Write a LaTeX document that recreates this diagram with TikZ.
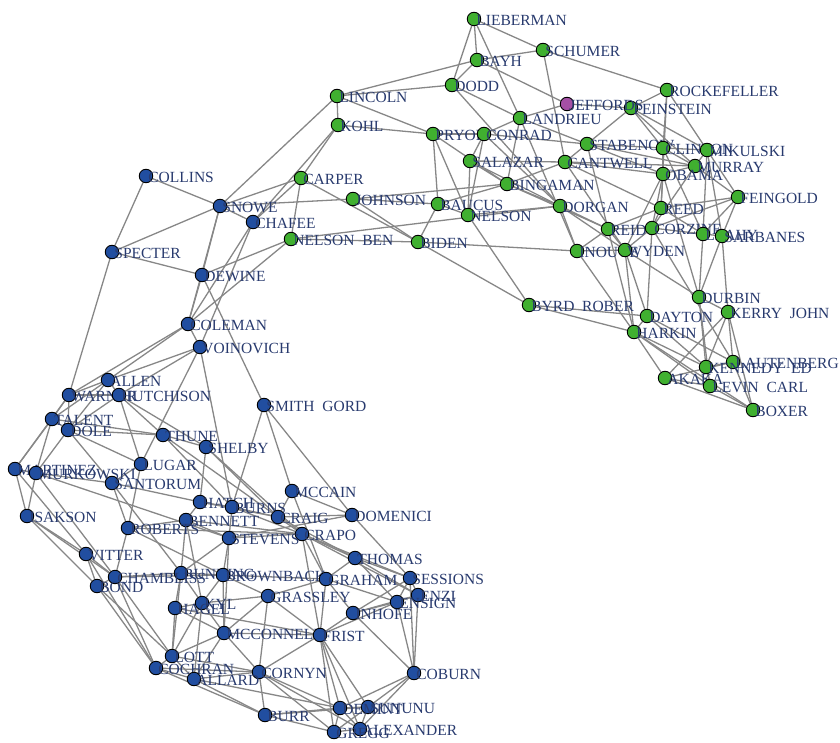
\documentclass[tikz,border=0pt]{standalone}
\usepackage{fontspec}
\setmainfont{Liberation Serif}
\usetikzlibrary{backgrounds}

\definecolor{demgreen}{RGB}{64,176,48}
\definecolor{repblue}{RGB}{33,78,160}
\definecolor{indpurple}{RGB}{165,80,165}
\definecolor{labnavy}{RGB}{40,58,110}
\definecolor{linkgray}{RGB}{135,135,135}

\tikzset{
  sen/.style = {circle, draw=black, line width=0.9pt, minimum size=13.5pt, inner sep=0pt},
  dem/.style = {sen, fill=demgreen},
  rep/.style = {sen, fill=repblue},
  ind/.style = {sen, fill=indpurple},
  lab/.style = {text=labnavy, inner sep=0pt, label distance=-5pt, yshift=-1.5pt,
                font=\fontsize{15.5}{17}\selectfont},
  link/.style = {draw=linkgray, line width=1.3pt}
}

\begin{document}
\begin{tikzpicture}[x=1pt, y=-1pt]
    \useasboundingbox (0,0) rectangle (840,743);
    % democrats
    \node[dem, label={[lab]0:LIEBERMAN}] (lieberman) at (474,19) {};
    \node[dem, label={[lab]0:SCHUMER}] (schumer) at (543,50) {};
    \node[dem, label={[lab]0:BAYH}] (bayh) at (477,60) {};
    \node[dem, label={[lab]0:DODD}] (dodd) at (452,85) {};
    \node[dem, label={[lab]0:LINCOLN}] (lincoln) at (337,96) {};
    \node[dem, label={[lab]0:ROCKEFELLER}] (rockefeller) at (667,90) {};
    \node[dem, label={[lab]0:LANDRIEU}] (landrieu) at (520,118) {};
    \node[dem, label={[lab]0:FEINSTEIN}] (feinstein) at (631,108) {};
    \node[ind, label={[lab]0:JEFFORDS}] (jeffords) at (567,104) {};
    \node[dem, label={[lab]0:KOHL}] (kohl) at (338,125) {};
    \node[dem, label={[lab]0:PRYOR}] (pryor) at (433,134) {};
    \node[dem, label={[lab]0:CONRAD}] (conrad) at (484,134) {};
    \node[dem, label={[lab]0:STABENOW}] (stabenow) at (587,144) {};
    \node[dem, label={[lab]0:CLINTON}] (clinton) at (663,148) {};
    \node[dem, label={[lab]0:MIKULSKI}] (mikulski) at (707,150) {};
    \node[dem, label={[lab]0:SALAZAR}] (salazar) at (470,161) {};
    \node[dem, label={[lab]0:CANTWELL}] (cantwell) at (565,162) {};
    \node[dem, label={[lab]0:MURRAY}] (murray) at (695,166) {};
    \node[dem, label={[lab]0:OBAMA}] (obama) at (663,174) {};
    \node[dem, label={[lab]0:BINGAMAN}] (bingaman) at (507,184) {};
    \node[dem, label={[lab]0:CARPER}] (carper) at (301,178) {};
    \node[dem, label={[lab]0:JOHNSON}] (johnson) at (353,199) {};
    \node[dem, label={[lab]0:BAUCUS}] (baucus) at (438,204) {};
    \node[dem, label={[lab]0:NELSON}] (nelson) at (468,215) {};
    \node[dem, label={[lab]0:DORGAN}] (dorgan) at (560,206) {};
    \node[dem, label={[lab]0:FEINGOLD}] (feingold) at (738,197) {};
    \node[dem, label={[lab]0:REED}] (reed) at (661,208) {};
    \node[dem, label={[lab]0:REID}] (reid) at (608,229) {};
    \node[dem, label={[lab]0:CORZINE}] (corzine) at (652,228) {};
    \node[dem, label={[lab]0:LEAHY}] (leahy) at (703,234) {};
    \node[dem, label={[lab]0:SARBANES}] (sarbanes) at (722,236) {};
    \node[dem, label={[lab]0:NELSON\ \ BEN}] (nelsonben) at (291,239) {};
    \node[dem, label={[lab]0:BIDEN}] (biden) at (418,242) {};
    \node[dem, label={[lab]0:INOUYE}] (inouye) at (577,251) {};
    \node[dem, label={[lab]0:WYDEN}] (wyden) at (625,250) {};
    \node[dem, label={[lab]0:BYRD\ \ ROBER}] (byrd) at (529,305) {};
    \node[dem, label={[lab]0:DURBIN}] (durbin) at (699,297) {};
    \node[dem, label={[lab]0:KERRY\ \ JOHN}] (kerry) at (728,312) {};
    \node[dem, label={[lab]0:DAYTON}] (dayton) at (647,316) {};
    \node[dem, label={[lab]0:HARKIN}] (harkin) at (634,332) {};
    \node[dem, label={[lab]0:LAUTENBERG}] (lautenberg) at (733,362) {};
    \node[dem, label={[lab]0:KENNEDY\ \ ED}] (kennedy) at (706,367) {};
    \node[dem, label={[lab]0:AKAKA}] (akaka) at (665,378) {};
    \node[dem, label={[lab]0:LEVIN\ \ CARL}] (levin) at (710,386) {};
    \node[dem, label={[lab]0:BOXER}] (boxer) at (753,410) {};
    % republicans
    \node[rep, label={[lab]0:COLLINS}] (collins) at (146,176) {};
    \node[rep, label={[lab]0:SNOWE}] (snowe) at (220,206) {};
    \node[rep, label={[lab]0:CHAFEE}] (chafee) at (253,222) {};
    \node[rep, label={[lab]0:SPECTER}] (specter) at (112,252) {};
    \node[rep, label={[lab]0:DEWINE}] (dewine) at (202,275) {};
    \node[rep, label={[lab]0:COLEMAN}] (coleman) at (188,324) {};
    \node[rep, label={[lab]0:VOINOVICH}] (voinovich) at (200,347) {};
    \node[rep, label={[lab]0:ALLEN}] (allen) at (108,380) {};
    \node[rep, label={[lab]0:WARNER}] (warner) at (69,395) {};
    \node[rep, label={[lab]0:HUTCHISON}] (hutchison) at (119,395) {};
    \node[rep, label={[lab]0:SMITH\ \ GORD}] (smith) at (264,405) {};
    \node[rep, label={[lab]0:TALENT}] (talent) at (52,419) {};
    \node[rep, label={[lab]0:DOLE}] (dole) at (68,430) {};
    \node[rep, label={[lab]0:THUNE}] (thune) at (163,435) {};
    \node[rep, label={[lab]0:SHELBY}] (shelby) at (206,447) {};
    \node[rep, label={[lab]0:LUGAR}] (lugar) at (141,464) {};
    \node[rep, label={[lab]0:MARTINEZ}] (martinez) at (15,469) {};
    \node[rep, label={[lab]0:MURKOWSKI}] (murkowski) at (36,473) {};
    \node[rep, label={[lab]0:SANTORUM}] (santorum) at (112,483) {};
    \node[rep, label={[lab]0:MCCAIN}] (mccain) at (292,491) {};
    \node[rep, label={[lab]0:HATCH}] (hatch) at (200,502) {};
    \node[rep, label={[lab]0:BURNS}] (burns) at (232,507) {};
    \node[rep, label={[lab]0:ISAKSON}] (isakson) at (27,516) {};
    \node[rep, label={[lab]0:DOMENICI}] (domenici) at (352,515) {};
    \node[rep, label={[lab]0:CRAIG}] (craig) at (278,517) {};
    \node[rep, label={[lab]0:BENNETT}] (bennett) at (186,520) {};
    \node[rep, label={[lab]0:ROBERTS}] (roberts) at (128,528) {};
    \node[rep, label={[lab]0:CRAPO}] (crapo) at (302,534) {};
    \node[rep, label={[lab]0:STEVENS}] (stevens) at (229,538) {};
    \node[rep, label={[lab]0:VITTER}] (vitter) at (86,554) {};
    \node[rep, label={[lab]0:THOMAS}] (thomas) at (355,558) {};
    \node[rep, label={[lab]0:BUNNING}] (bunning) at (181,573) {};
    \node[rep, label={[lab]0:BROWNBACK}] (brownback) at (223,575) {};
    \node[rep, label={[lab]0:CHAMBLISS}] (chambliss) at (115,577) {};
    \node[rep, label={[lab]0:SESSIONS}] (sessions) at (410,578) {};
    \node[rep, label={[lab]0:GRAHAM}] (graham) at (326,579) {};
    \node[rep, label={[lab]0:BOND}] (bond) at (97,586) {};
    \node[rep, label={[lab]0:ENZI}] (enzi) at (418,595) {};
    \node[rep, label={[lab]0:GRASSLEY}] (grassley) at (268,596) {};
    \node[rep, label={[lab]0:ENSIGN}] (ensign) at (397,602) {};
    \node[rep, label={[lab]0:KYL}] (kyl) at (202,603) {};
    \node[rep, label={[lab]0:HAGEL}] (hagel) at (175,608) {};
    \node[rep, label={[lab]0:INHOFE}] (inhofe) at (353,613) {};
    \node[rep, label={[lab]0:MCCONNELL}] (mcconnell) at (224,633) {};
    \node[rep, label={[lab]0:FRIST}] (frist) at (320,635) {};
    \node[rep, label={[lab]0:LOTT}] (lott) at (172,656) {};
    \node[rep, label={[lab]0:COCHRAN}] (cochran) at (156,668) {};
    \node[rep, label={[lab]0:CORNYN}] (cornyn) at (259,672) {};
    \node[rep, label={[lab]0:COBURN}] (coburn) at (414,673) {};
    \node[rep, label={[lab]0:ALLARD}] (allard) at (194,679) {};
    \node[rep, label={[lab]0:SUNUNU}] (sununu) at (368,707) {};
    \node[rep, label={[lab]0:DEMINT}] (demint) at (340,708) {};
    \node[rep, label={[lab]0:BURR}] (burr) at (265,715) {};
    \node[rep, label={[lab]0:ALEXANDER}] (alexander) at (360,729) {};
    \node[rep, label={[lab]0:GREGG}] (gregg) at (334,732) {};
    % links
    \begin{scope}[on background layer]
    \foreach \a/\b in {lieberman/schumer, lieberman/bayh, lieberman/dodd, lieberman/landrieu,
        schumer/bayh, schumer/rockefeller, schumer/cantwell, bayh/lincoln, bayh/dodd, bayh/jeffords,
        dodd/lincoln, dodd/landrieu, dodd/dorgan, lincoln/kohl, lincoln/snowe, lincoln/pryor,
        kohl/pryor, kohl/carper, kohl/chafee, pryor/conrad, pryor/baucus, pryor/nelson, pryor/bingaman,
        conrad/salazar, conrad/landrieu, conrad/dorgan, conrad/nelson, conrad/stabenow,
        salazar/bingaman, salazar/dorgan, salazar/cantwell, bingaman/cantwell, bingaman/dorgan,
        bingaman/reid, bingaman/landrieu, bingaman/johnson, landrieu/jeffords, landrieu/inouye,
        landrieu/stabenow, jeffords/feinstein, rockefeller/feinstein, rockefeller/clinton,
        rockefeller/mikulski, rockefeller/reed, feinstein/clinton, feinstein/murray,
        feinstein/stabenow, feinstein/mikulski, stabenow/clinton, stabenow/cantwell,
        stabenow/murray, stabenow/reid, stabenow/obama, cantwell/murray, cantwell/obama,
        cantwell/wyden, cantwell/reed, clinton/mikulski, clinton/murray, clinton/obama,
        clinton/leahy, mikulski/murray, mikulski/feingold, mikulski/sarbanes, mikulski/leahy,
        murray/feingold, murray/obama, murray/corzine, obama/reed, obama/corzine, obama/durbin,
        obama/wyden, feingold/sarbanes, feingold/leahy, feingold/corzine, feingold/reed,
        reed/corzine, reed/reid, reed/leahy, reid/inouye, reid/wyden, reid/corzine, reid/harkin,
        corzine/wyden, corzine/leahy, corzine/dayton, corzine/lautenberg, leahy/sarbanes,
        leahy/durbin, sarbanes/durbin, sarbanes/kerry, dorgan/inouye, dorgan/reid, dorgan/wyden,
        dorgan/nelsonben, inouye/wyden, inouye/harkin, inouye/biden, wyden/durbin, wyden/harkin,
        wyden/dayton, carper/nelsonben, carper/biden, carper/snowe, johnson/snowe, johnson/biden,
        johnson/baucus, baucus/nelson, baucus/bingaman, baucus/biden, nelson/salazar, nelson/byrd,
        nelson/dorgan, nelsonben/dewine, nelsonben/coleman, nelsonben/biden, byrd/dayton,
        byrd/harkin, byrd/biden, dayton/harkin, dayton/kennedy, dayton/lautenberg, harkin/akaka,
        harkin/levin, harkin/boxer, harkin/kennedy, durbin/kennedy, durbin/levin, durbin/kerry,
        kerry/akaka, kerry/boxer, kerry/kennedy, kerry/lautenberg, lautenberg/boxer,
        lautenberg/akaka, lautenberg/kennedy, kennedy/levin, levin/boxer, akaka/boxer, akaka/levin}
        \draw[link] (\a) -- (\b);
    \foreach \a/\b in {collins/snowe, collins/specter, specter/snowe, specter/dewine,
        specter/warner, snowe/chafee, snowe/dewine, snowe/coleman, chafee/coleman,
        chafee/voinovich, chafee/carper, dewine/coleman, dewine/smith, coleman/voinovich,
        coleman/warner, coleman/allen, voinovich/allen, voinovich/lugar, voinovich/hutchison,
        voinovich/burns, smith/mccain, smith/domenici, smith/burns, allen/warner, allen/hutchison,
        allen/talent, allen/dole, warner/talent, warner/hutchison, warner/martinez, warner/dole,
        hutchison/dole, hutchison/thune, hutchison/shelby, hutchison/lugar, talent/dole,
        talent/martinez, talent/murkowski, talent/thune, dole/thune, dole/lugar, dole/murkowski,
        dole/santorum, thune/shelby, thune/craig, thune/burns, shelby/hatch, shelby/craig,
        shelby/crapo, lugar/santorum, lugar/roberts, martinez/murkowski, martinez/isakson,
        martinez/vitter, murkowski/santorum, murkowski/isakson, murkowski/stevens,
        murkowski/chambliss, santorum/hatch, santorum/roberts, santorum/bunning, isakson/vitter,
        isakson/bond, isakson/chambliss, roberts/brownback, roberts/bennett, roberts/chambliss,
        roberts/crapo, hatch/bennett, hatch/burns, hatch/craig, burns/craig, burns/stevens,
        burns/crapo, bennett/stevens, bennett/crapo, bennett/bunning, bennett/kyl, craig/crapo,
        craig/domenici, craig/mccain, craig/thomas, mccain/graham, mccain/domenici,
        domenici/sessions, domenici/stevens, stevens/crapo, stevens/brownback, stevens/mcconnell,
        stevens/bunning, crapo/thomas, crapo/enzi, crapo/graham, crapo/sessions, crapo/frist,
        thomas/sessions, thomas/enzi, thomas/ensign, thomas/graham, sessions/enzi,
        sessions/ensign, sessions/coburn, sessions/inhofe, enzi/ensign, enzi/coburn, enzi/inhofe,
        ensign/inhofe, ensign/frist, ensign/coburn, ensign/graham, graham/inhofe, graham/frist,
        graham/brownback, brownback/bunning, brownback/kyl, brownback/grassley,
        brownback/mcconnell, brownback/chambliss, bunning/kyl, bunning/hagel, bunning/chambliss,
        bunning/lott, chambliss/vitter, chambliss/bond, chambliss/cochran, chambliss/lott,
        vitter/bond, vitter/cochran, bond/cochran, bond/lott, grassley/cornyn, grassley/frist,
        grassley/kyl, grassley/mcconnell, grassley/graham, kyl/hagel, kyl/mcconnell, kyl/allard,
        kyl/lott, hagel/lott, hagel/mcconnell, hagel/frist, inhofe/frist, inhofe/coburn,
        mcconnell/frist, mcconnell/cornyn, mcconnell/allard, mcconnell/lott, frist/cornyn,
        frist/demint, frist/gregg, frist/alexander, frist/sununu, lott/cochran, lott/allard,
        lott/cornyn, cochran/allard, cochran/cornyn, cochran/burr, allard/cornyn, allard/burr,
        allard/demint, cornyn/burr, cornyn/demint, cornyn/gregg, cornyn/alexander, coburn/sununu,
        coburn/demint, coburn/alexander, burr/demint, burr/gregg, burr/sununu, demint/sununu,
        demint/gregg, demint/alexander, sununu/alexander, gregg/alexander, sununu/gregg}
        \draw[link] (\a) -- (\b);
    \end{scope}
\end{tikzpicture}
\end{document}
